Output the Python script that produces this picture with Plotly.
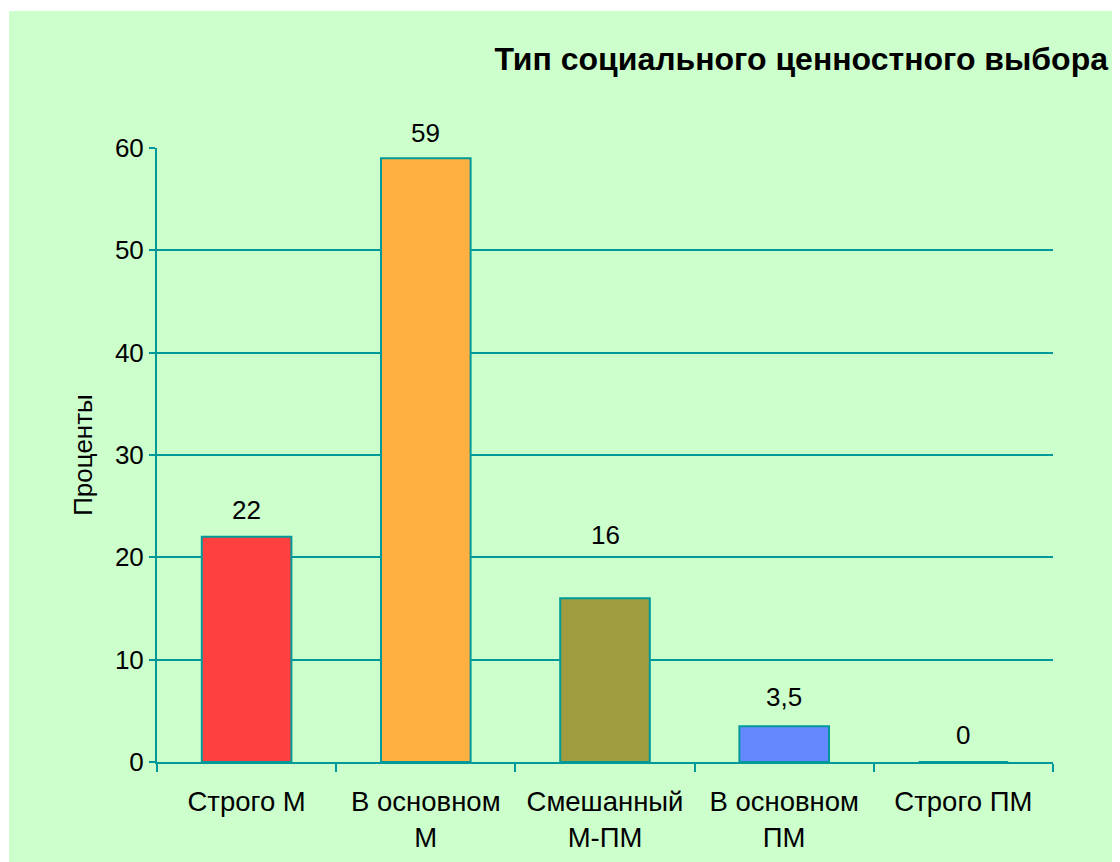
import plotly.graph_objects as go

categories = ["Строго М", "В основном<br>М", "Смешанный<br>М-ПМ", "В основном<br>ПМ", "Строго ПМ"]
values = [22, 59, 16, 3.5, 0]
value_labels = ["22", "59", "16", "3,5", "0"]
bar_colors = ["#FF4040", "#FFB040", "#A09C40", "#6688FF", "#CCCCFF"]
label_shift = [27, 25, 63, 29, 27]
y_ticks = [0, 10, 20, 30, 40, 50, 60]

TEAL = "#009999"
FONT = "Liberation Sans, Arial, sans-serif"
FS = 26

# page has an 8px body margin; figure is sized to fill the rest of the 1120x862 window
W, H = 1112, 854
l, r, t, b = 149, 67, 140, 100
pw, ph = W - l - r, H - t - b

fig = go.Figure()
fig.add_trace(go.Bar(
    x=categories, y=values, width=0.5,
    marker=dict(color=bar_colors, line=dict(color=TEAL, width=2)),
    hoverinfo="skip",
))

for c, v, txt, s in zip(categories, values, value_labels, label_shift):
    fig.add_annotation(x=c, y=v, text=txt, showarrow=False, yanchor="middle",
                       yshift=s, font=dict(size=FS, color="black", family=FONT))

# light green chart area (starts slightly inside the page's white margin)
fig.add_shape(type="rect", xref="paper", yref="paper", layer="below",
              x0=(1 - l) / pw, x1=(W - l) / pw,
              y0=-b / ph, y1=(H - b - 3) / ph,
              fillcolor="#CCFFCC", line=dict(width=0))

fig.update_layout(
    width=W, height=H,
    margin=dict(l=l, r=r, t=t, b=b, autoexpand=False),
    paper_bgcolor="white", plot_bgcolor="rgba(0,0,0,0)",
    showlegend=False,
    font=dict(family=FONT, size=FS, color="black"),
    title=dict(text="<b>Тип социального ценностного выбора</b>", xref="container", yref="container",
               x=(1108 - 8) / W, xanchor="right", y=1 - (59 - 8) / H, yanchor="middle",
               font=dict(size=32, family=FONT, color="black")),
)
fig.update_xaxes(type="category", showline=True, linecolor=TEAL, linewidth=2,
                 ticks="outside", tickson="boundaries", ticklen=8, tickcolor=TEAL, tickwidth=2,
                 ticklabelstandoff=14, automargin=False,
                 showgrid=False, tickfont=dict(size=27.5, family=FONT, color="black"))
fig.update_yaxes(range=[0, 60], tickvals=y_ticks, showline=True, linecolor=TEAL, linewidth=2,
                 ticks="outside", ticklen=6, tickcolor=TEAL, tickwidth=2, automargin=False,
                 showgrid=True, gridcolor=TEAL, gridwidth=2, zeroline=False,
                 tickfont=dict(size=FS, family=FONT, color="black"),
                 title=dict(text="Проценты", font=dict(size=FS, family=FONT, color="black"), standoff=15))

fig.write_html("out.html")
